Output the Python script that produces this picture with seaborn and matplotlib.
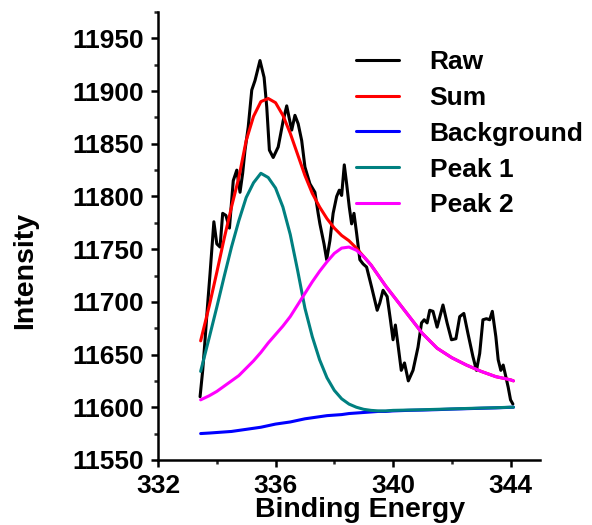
import matplotlib
matplotlib.use('Agg')
import matplotlib.pyplot as plt
import seaborn as sns
from matplotlib.ticker import MultipleLocator

# raw spectrum
raw_x = [333.43, 333.52, 333.60, 333.68, 333.77, 333.90, 334.00, 334.11, 334.20, 334.31,
         334.43, 334.56, 334.68, 334.79, 334.88, 334.96, 335.07, 335.19, 335.30, 335.47,
         335.61, 335.70, 335.79, 335.92, 336.09, 336.26, 336.38, 336.46, 336.55, 336.66,
         336.77, 336.89, 337.00, 337.17, 337.34, 337.45, 337.51, 337.65, 337.74, 337.85,
         337.96, 338.08, 338.17, 338.25, 338.34, 338.42, 338.51, 338.59, 338.67, 338.76,
         338.87, 338.98, 339.10, 339.27, 339.46, 339.55, 339.66, 339.80, 339.91, 340.00,
         340.08, 340.17, 340.28, 340.39, 340.52, 340.68, 340.85, 340.97, 341.06, 341.16,
         341.25, 341.36, 341.50, 341.70, 341.84, 341.99, 342.14, 342.27, 342.41, 342.55,
         342.72, 342.84, 342.95, 343.06, 343.18, 343.29, 343.38, 343.50, 343.58, 343.67,
         343.75, 343.84, 343.92, 344.00, 344.08]
raw_y = [11610, 11635, 11664, 11695, 11727, 11776, 11755, 11752, 11784, 11782,
         11770, 11815, 11825, 11804, 11822, 11844, 11866, 11901, 11910, 11929,
         11913, 11885, 11844, 11837, 11847, 11872, 11886, 11875, 11863, 11877,
         11869, 11853, 11828, 11812, 11804, 11784, 11774, 11755, 11740, 11758,
         11784, 11800, 11806, 11801, 11830, 11812, 11790, 11774, 11784, 11765,
         11740, 11736, 11733, 11714, 11692, 11699, 11711, 11705, 11683, 11664,
         11678, 11659, 11635, 11642, 11625, 11635, 11657, 11680, 11683, 11680,
         11692, 11691, 11676, 11697, 11680, 11664, 11665, 11686, 11689, 11670,
         11648, 11635, 11651, 11683, 11684, 11683, 11691, 11667, 11645, 11635,
         11640, 11629, 11619, 11607, 11603]

# fitted curves share one energy grid
fit_x = [333.45, 333.75, 334.0, 334.25, 334.5, 334.75, 335.0, 335.25, 335.5, 335.75,
         336.0, 336.25, 336.5, 336.75, 337.0, 337.25, 337.5, 337.75, 338.0, 338.25,
         338.5, 338.75, 339.0, 339.25, 339.5, 339.75, 340.0, 340.5, 341.0, 341.5,
         342.0, 342.5, 343.0, 343.5, 344.0, 344.1]
sum_y = [11663, 11697, 11728, 11760, 11790, 11818, 11853, 11876, 11890, 11893,
         11889, 11877, 11860, 11840, 11820, 11803, 11790, 11779, 11770, 11763,
         11758, 11751, 11743, 11735, 11725, 11715, 11706, 11688, 11670, 11656,
         11647, 11640, 11634, 11629, 11626, 11625]
bg_y = [11575, 11575.5, 11576, 11576.5, 11577, 11578, 11579, 11580, 11581, 11582.5,
        11584, 11585, 11586, 11587.5, 11589, 11590, 11591, 11592, 11592.5, 11593,
        11594, 11594.5, 11595, 11595.5, 11596, 11596, 11596.5, 11597, 11597.3, 11597.7,
        11598.2, 11598.6, 11599, 11599.4, 11599.9, 11600]
peak1_y = [11634, 11667, 11695, 11724, 11752, 11777, 11799, 11813, 11822, 11818,
           11808, 11790, 11764, 11730, 11694, 11667, 11645, 11628, 11616, 11608,
           11603, 11600, 11598, 11597, 11596.5, 11596.5, 11597, 11597.3, 11597.6, 11598,
           11598.4, 11598.8, 11599.2, 11599.5, 11600, 11600]
peak2_y = [11607, 11611, 11615, 11620, 11625, 11630, 11637, 11644, 11652, 11661,
           11669, 11677, 11686, 11697, 11708, 11719, 11729, 11738, 11746, 11751,
           11752, 11749, 11743, 11735, 11725, 11715, 11706, 11688, 11670, 11656,
           11647, 11640, 11634, 11629, 11626, 11625]

series = [('Sum', sum_y, '#ff0000'),
          ('Background', bg_y, '#0000ff'),
          ('Peak 1', peak1_y, '#008080'),
          ('Peak 2', peak2_y, '#ff00ff')]

sns.set_style('ticks')
plt.rcParams['font.family'] = ['Liberation Sans', 'DejaVu Sans']
plt.rcParams['font.weight'] = 'bold'
plt.rcParams['text.color'] = 'black'
plt.rcParams['axes.labelcolor'] = 'black'

fig = plt.figure(figsize=(5.92, 5.25), dpi=100)
ax = fig.add_axes([0.267, 0.124, 0.645, 0.853])

lw = 2.2
sns.lineplot(x=raw_x, y=raw_y, color='black', lw=lw, label='Raw', ax=ax,
             estimator=None, sort=False)
for name, ys, col in series:
    sns.lineplot(x=fit_x, y=ys, color=col, lw=lw, label=name, ax=ax,
                 estimator=None, sort=False)

ax.set_xlim(332, 345)
ax.set_ylim(11550, 11975)
ax.xaxis.set_major_locator(MultipleLocator(4))
ax.xaxis.set_minor_locator(MultipleLocator(2))
ax.yaxis.set_major_locator(MultipleLocator(50))
ax.yaxis.set_minor_locator(MultipleLocator(25))

sns.despine(ax=ax)
for s in ['left', 'bottom']:
    ax.spines[s].set_linewidth(1.8)
    ax.spines[s].set_color('black')
ax.tick_params(which='major', direction='out', length=5, width=1.8, pad=5,
               labelsize=19, colors='black')
ax.tick_params(which='minor', direction='out', length=3, width=1.8)
for lab in ax.get_xticklabels() + ax.get_yticklabels():
    lab.set_fontweight('bold')

ax.set_xlabel('Binding Energy', fontsize=20.5, fontweight='bold', color='black')
ax.set_ylabel('Intensity', fontsize=20.5, fontweight='bold', color='black')
ax.xaxis.set_label_coords(0.529, -0.083)
ax.yaxis.set_label_coords(-0.314, 0.424)

leg = ax.legend(loc='upper left', bbox_to_anchor=(0.485, 0.945), frameon=False,
                fontsize=19, handlelength=1.6, handletextpad=1.17,
                labelspacing=0.45, borderpad=0)
for t in leg.get_texts():
    t.set_fontweight('bold')
    t.set_color('black')

fig.savefig('out.png', dpi=100)
